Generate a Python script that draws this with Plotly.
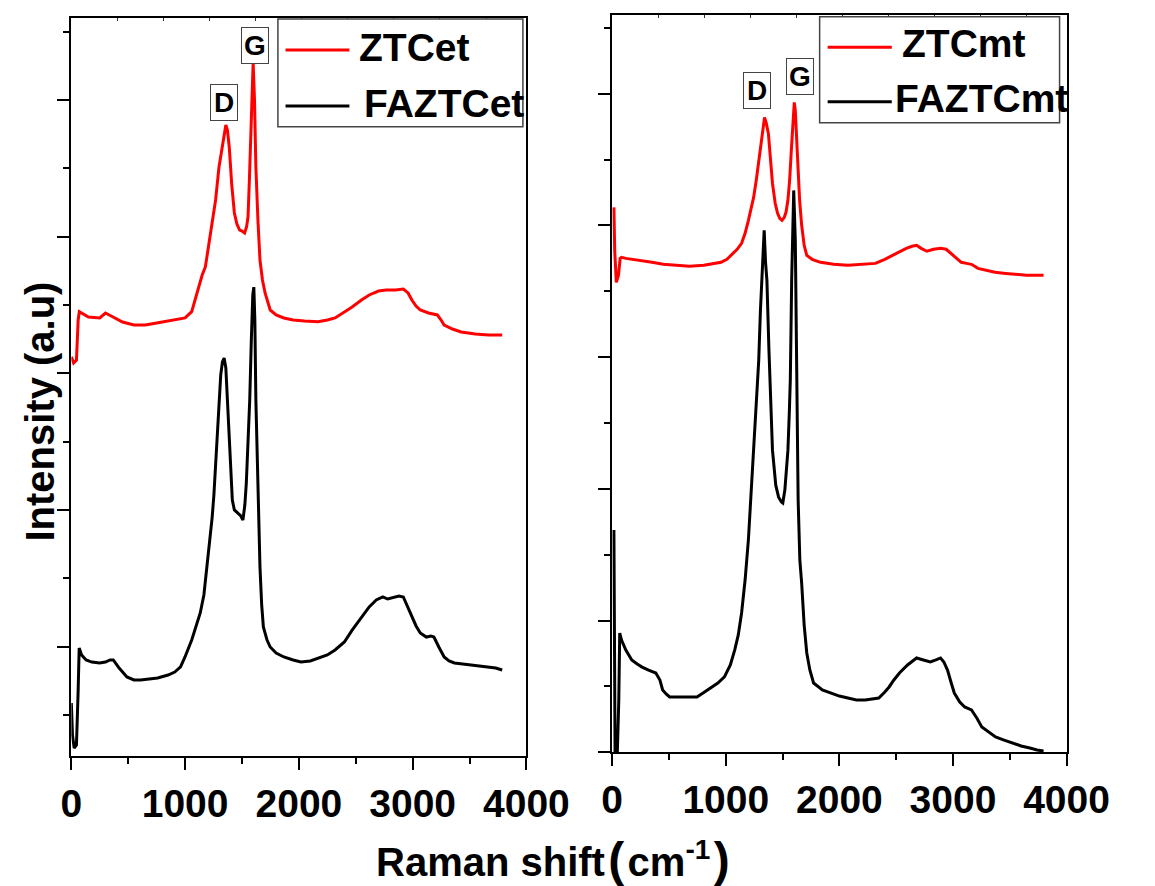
import plotly.graph_objects as go

W, H = 1155, 886
FONT = "Arial, 'Liberation Sans', sans-serif"

# ---- ZTCet / FAZTCet spectra (Raman shift in cm-1, intensity in counts) ----
et_ztc_x = [0, 20, 45, 60, 70, 100, 150, 250, 300, 350, 450, 550, 650, 750, 850, 950, 1000,
            1058, 1103, 1150, 1178, 1200, 1223, 1250, 1268, 1298, 1328, 1345, 1358, 1372, 1388,
            1410, 1433, 1455, 1478, 1500, 1523, 1540, 1553, 1565, 1577, 1588, 1598, 1610, 1622,
            1640, 1658, 1680, 1703, 1748, 1800, 1868, 1950, 2050, 2168, 2250, 2318, 2400, 2468,
            2550, 2618, 2700, 2768, 2850, 2918, 2960, 2993, 3030, 3067, 3140, 3217, 3250, 3277,
            3350, 3426, 3550, 3667, 3787]
et_ztc_y = [3121, 3075, 3097, 3390, 3451, 3434, 3412, 3405, 3441, 3419, 3375, 3353, 3353, 3368,
            3383, 3397, 3405, 3451, 3588, 3719, 3778, 3902, 4027, 4173, 4268, 4510, 4656, 4766,
            4817, 4780, 4656, 4378, 4173, 4093, 4049, 4041, 4027, 4071, 4144, 4415, 4759, 5037,
            5271, 5000, 4510, 4122, 3829, 3683, 3588, 3463, 3427, 3405, 3390, 3383, 3378, 3390,
            3405, 3449, 3485, 3536, 3573, 3602, 3609, 3609, 3617, 3588, 3536, 3492, 3463, 3441,
            3427, 3390, 3353, 3324, 3302, 3288, 3280, 3280]

et_fa_x = [0, 10, 25, 45, 60, 69, 90, 130, 180, 249, 300, 340, 369, 420, 489, 550, 609, 700,
           759, 850, 909, 960, 999, 1058, 1100, 1133, 1165, 1193, 1218, 1238, 1253, 1268, 1283,
           1298, 1313, 1328, 1343, 1358, 1375, 1395, 1415, 1433, 1460, 1490, 1508, 1525, 1538,
           1553, 1568, 1582, 1595, 1604, 1613, 1622, 1640, 1658, 1673, 1688, 1720, 1748, 1800,
           1868, 1950, 2018, 2100, 2168, 2250, 2318, 2400, 2468, 2550, 2618, 2680, 2738, 2780,
           2828, 2880, 2918, 2950, 2993, 3030, 3067, 3120, 3160, 3187, 3230, 3277, 3320, 3367,
           3440, 3517, 3600, 3667, 3730, 3787]
et_fa_y = [587, 353, 258, 280, 682, 990, 939, 902, 887, 880, 887, 902, 902, 843, 778, 756, 756,
           763, 770, 792, 814, 851, 924, 1048, 1158, 1246, 1378, 1583, 1780, 1948, 2109, 2314,
           2548, 2805, 2987, 3083, 3112, 3039, 2731, 2366, 2073, 2000, 1978, 1956, 1926, 2036,
           2197, 2475, 2805, 3243, 3573, 3631, 3390, 2805, 2146, 1583, 1305, 1144, 1048, 997,
           953, 924, 902, 887, 895, 917, 939, 975, 1034, 1121, 1216, 1290, 1341, 1363, 1348,
           1356, 1370, 1363, 1304, 1216, 1151, 1100, 1070, 1078, 1070, 997, 924, 895, 880, 873,
           865, 858, 851, 843, 829]

# ---- ZTCmt / FAZTCmt spectra ----
mt_ztc_x = [15, 22, 36, 55, 70, 82, 120, 180, 263, 350, 450, 565, 680, 807, 900, 958, 1010,
            1048, 1100, 1139, 1170, 1199, 1225, 1245, 1268, 1290, 1312, 1330, 1341, 1355, 1375,
            1393, 1411, 1435, 1456, 1475, 1495, 1515, 1530, 1547, 1562, 1577, 1592, 1603, 1612,
            1625, 1637, 1650, 1668, 1690, 1713, 1760, 1834, 1950, 2075, 2200, 2317, 2400, 2468,
            2530, 2589, 2640, 2680, 2720, 2770, 2830, 2891, 2940, 2982, 3030, 3073, 3120, 3163,
            3220, 3284, 3370, 3465, 3550, 3647, 3720, 3798]
mt_ztc_y = [4137, 3811, 3568, 3621, 3750, 3758, 3750, 3743, 3735, 3720, 3705, 3697, 3690, 3697,
            3712, 3720, 3743, 3773, 3819, 3864, 3940, 4039, 4137, 4213, 4342, 4494, 4661, 4782,
            4820, 4782, 4699, 4509, 4319, 4168, 4092, 4054, 4039, 4062, 4100, 4191, 4342, 4570,
            4835, 4934, 4873, 4646, 4418, 4191, 4001, 3849, 3773, 3743, 3720, 3705, 3697, 3705,
            3712, 3743, 3773, 3804, 3826, 3842, 3849, 3826, 3804, 3819, 3826, 3819, 3788, 3750,
            3720, 3712, 3705, 3674, 3659, 3644, 3636, 3629, 3621, 3621, 3621]

mt_fa_x = [15, 20, 25, 45, 58, 66, 82, 120, 172, 220, 263, 320, 384, 420, 444, 475, 505, 560,
           625, 690, 746, 800, 867, 930, 988, 1040, 1079, 1110, 1139, 1170, 1199, 1222, 1245,
           1268, 1290, 1305, 1320, 1338, 1350, 1362, 1380, 1395, 1411, 1440, 1465, 1490, 1502,
           1520, 1535, 1547, 1560, 1568, 1580, 1598, 1612, 1625, 1637, 1652, 1668, 1690, 1713,
           1740, 1773, 1850, 1924, 2000, 2075, 2150, 2227, 2300, 2347, 2400, 2438, 2480, 2529,
           2600, 2680, 2740, 2801, 2850, 2891, 2920, 2952, 2985, 3012, 3060, 3103, 3163, 3210,
           3254, 3310, 3375, 3450, 3526, 3600, 3677, 3740, 3798]
mt_fa_y = [1687, 1004, 0, 0, 397, 905, 852, 776, 701, 670, 647, 624, 602, 549, 473, 443, 420,
           420, 420, 420, 420, 450, 488, 526, 572, 663, 777, 891, 1058, 1308, 1612, 1953, 2294,
           2597, 2976, 3356, 3697, 3963, 3720, 3583, 3052, 2597, 2294, 2028, 1937, 1900, 1892,
           1991, 2142, 2294, 2597, 2825, 3583, 4266, 3887, 2825, 1915, 1460, 1285, 966, 754,
           625, 526, 473, 450, 427, 412, 397, 397, 404, 412, 458, 496, 549, 602, 663, 716, 701,
           686, 701, 716, 686, 624, 526, 450, 382, 344, 322, 261, 193, 155, 117, 93, 70, 48, 33,
           17, 10]

RED, BLACK = "#ff0000", "#000000"

fig = go.Figure()
fig.add_trace(go.Scatter(x=et_ztc_x, y=et_ztc_y, mode="lines", name="ZTCet",
                         line=dict(color=RED, width=3), xaxis="x", yaxis="y"))
fig.add_trace(go.Scatter(x=et_fa_x, y=et_fa_y, mode="lines", name="FAZTCet",
                         line=dict(color=BLACK, width=3), xaxis="x", yaxis="y"))
fig.add_trace(go.Scatter(x=mt_ztc_x, y=mt_ztc_y, mode="lines", name="ZTCmt",
                         line=dict(color=RED, width=3), xaxis="x2", yaxis="y2"))
fig.add_trace(go.Scatter(x=mt_fa_x, y=mt_fa_y, mode="lines", name="FAZTCmt",
                         line=dict(color=BLACK, width=3), xaxis="x2", yaxis="y2"))
# empty traces that carry the small top-edge tick axes
fig.add_trace(go.Scatter(x=[], y=[], xaxis="x3", yaxis="y", showlegend=False))
fig.add_trace(go.Scatter(x=[], y=[], xaxis="x4", yaxis="y2", showlegend=False))


def px_x(p):
    return p / W


def px_y(p):
    return 1 - p / H


tickfont = dict(family=FONT, size=39, color="black", weight="bold")


def xaxis_style(domain, anchor):
    return dict(domain=domain, anchor=anchor, range=[0, 4000], tick0=0, dtick=1000,
                ticks="outside", ticklen=12, tickwidth=2, tickcolor="black",
                showline=True, linewidth=2, linecolor="black", mirror=True,
                showgrid=False, zeroline=False, tickfont=tickfont,
                minor=dict(dtick=500, ticks="outside", ticklen=6, tickwidth=2,
                           tickcolor="black", showgrid=False))


def yaxis_style(domain, anchor, rng):
    return dict(domain=domain, anchor=anchor, range=rng, tick0=0, dtick=1000,
                ticks="outside", ticklen=12, tickwidth=2, tickcolor="black",
                showline=True, linewidth=2, linecolor="black", mirror=True,
                showgrid=False, zeroline=False, showticklabels=False,
                minor=dict(dtick=500, ticks="outside", ticklen=6, tickwidth=2,
                           tickcolor="black", showgrid=False))


def top_ticks(overlay, anchor):
    return dict(overlaying=overlay, anchor=anchor, side="top", range=[0, 4000],
                tickvals=[405 * k for k in range(1, 10)], ticks="inside", ticklen=3,
                tickwidth=1, tickcolor="#333", showticklabels=False, showline=False,
                showgrid=False, zeroline=False)


left_dom_x = [px_x(63.3), px_x(540.7)]
right_dom_x = [px_x(630.7), px_x(1107.3)]
left_dom_y = [px_y(756), px_y(18.3)]
right_dom_y = [px_y(752.3), px_y(14.7)]

annotations = []
shapes = []

# D / G band labels (boxed)
for xr, yr, xv, yv, txt in [("x", "y", 1346, 4985, "D"), ("x", "y", 1614, 5402, "G"),
                            ("x2", "y2", 1278, 5025, "D"), ("x2", "y2", 1652, 5129, "G")]:
    annotations.append(dict(xref=xr, yref=yr, x=xv, y=yv, text=txt, showarrow=False,
                            font=dict(family=FONT, size=28, color="black", weight="bold"),
                            bordercolor="#444", borderwidth=1, borderpad=0,
                            bgcolor="white", width=26, height=35))

# legends drawn in figure pixels
legends = [
    dict(box=(280, 19, 537, 126.7),
         items=[(288, 355, 50, RED, "ZTCet", 363, 48), (288, 355, 106, BLACK, "FAZTCet", 368, 103)]),
    dict(box=(848.3, 16.7, 1100, 122.7),
         items=[(856.7, 924, 47.3, RED, "ZTCmt", 933, 43), (856.7, 924, 101.7, BLACK, "FAZTCmt", 925.7, 98)]),
]
for lg in legends:
    x0, y0, x1, y1 = lg["box"]
    shapes.append(dict(type="rect", xref="paper", yref="paper",
                       x0=px_x(x0), x1=px_x(x1), y0=px_y(y1), y1=px_y(y0),
                       line=dict(color="#444", width=1.5), fillcolor="white", layer="above"))
    for lx0, lx1, ly, col, label, tx, ty in lg["items"]:
        shapes.append(dict(type="line", xref="paper", yref="paper",
                           x0=px_x(lx0), x1=px_x(lx1), y0=px_y(ly), y1=px_y(ly),
                           line=dict(color=col, width=3), layer="above"))
        annotations.append(dict(xref="paper", yref="paper", x=px_x(tx), y=px_y(ty),
                                xanchor="left", yanchor="middle", text=label, showarrow=False,
                                font=dict(family=FONT, size=39, color="black", weight="bold")))

# axis titles
annotations.append(dict(xref="paper", yref="paper", x=px_x(30), y=px_y(412),
                        xanchor="center", yanchor="middle", textangle=-90,
                        text="Intensity (a.u)", showarrow=False,
                        font=dict(family=FONT, size=40, color="black", weight="bold")))
annotations.append(dict(xref="paper", yref="paper", x=px_x(568.5), y=px_y(859),
                        xanchor="center", yanchor="middle",
                        text="Raman shift\u200a<span style='font-size:48px'>(</span>\u200acm<sup>-1</sup>"
                             "\u200a<span style='font-size:48px'>)</span>",
                        showarrow=False,
                        font=dict(family=FONT, size=40, color="black", weight="bold")))

fig.update_layout(
    width=W, height=H, margin=dict(l=0, r=0, t=0, b=0),
    paper_bgcolor="white", plot_bgcolor="white", showlegend=False,
    font=dict(family=FONT, color="black"),
    xaxis=xaxis_style(left_dom_x, "y"),
    yaxis=yaxis_style(left_dom_y, "x", [199.4, 5597.8]),
    xaxis2=xaxis_style(right_dom_x, "y2"),
    yaxis2=yaxis_style(right_dom_y, "x2", [0, 5600]),
    xaxis3=top_ticks("x", "y"),
    xaxis4=top_ticks("x2", "y2"),
    annotations=annotations, shapes=shapes,
)

fig.write_html("out.html")
